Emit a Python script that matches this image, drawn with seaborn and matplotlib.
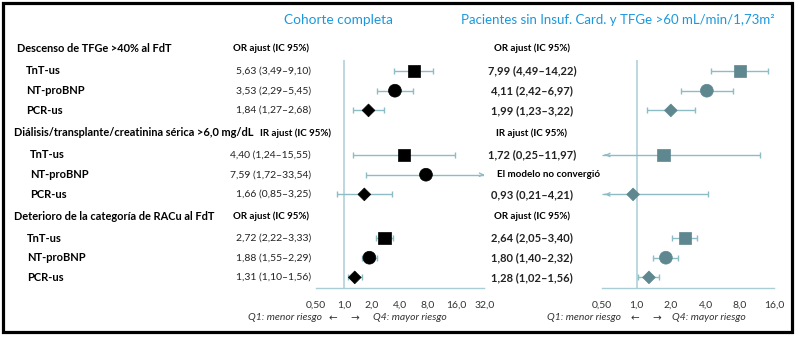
import numpy as np
import pandas as pd
import matplotlib
matplotlib.use("Agg")
import matplotlib.pyplot as plt
import seaborn as sns
from matplotlib.patches import Rectangle

# ---------------- data ----------------
groups = ["Descenso de TFGe >40% al FdT",
          "Diálisis/transplante/creatinina sérica >6,0 mg/dL",
          "Deterioro de la categoría de RACu al FdT"]
measures = ["OR ajust (IC 95%)", "IR ajust (IC 95%)", "OR ajust (IC 95%)"]
biomarkers = ["TnT-us", "NT-proBNP", "PCR-us"]

full_est = [5.63, 3.53, 1.84, 4.40, 7.59, 1.66, 2.72, 1.88, 1.31]
full_lo = [3.49, 2.29, 1.27, 1.24, 1.72, 0.85, 2.22, 1.55, 1.10]
full_hi = [9.10, 5.45, 2.68, 15.55, 33.54, 3.25, 3.33, 2.29, 1.56]

sub_est = [7.99, 4.11, 1.99, 1.72, np.nan, 0.93, 2.64, 1.80, 1.28]
sub_lo = [4.49, 2.42, 1.23, 0.25, np.nan, 0.21, 2.05, 1.40, 1.02]
sub_hi = [14.22, 6.97, 3.22, 11.97, np.nan, 4.21, 3.40, 2.32, 1.56]
not_converged = "El modelo no convergió"

titles = ["Cohorte completa", "Pacientes sin Insuf. Card. y TFGe >60 mL/min/1,73m²"]
left_ticks = [0.5, 1, 2, 4, 8, 16, 32]
left_ticklabels = ["0,50", "1,0", "2,0", "4,0", "8,0", "16,0", "32,0"]
right_ticks = [0.5, 1, 2, 4, 8, 16]
right_ticklabels = ["0,50", "1,0", "2,0", "4,0", "8,0", "16,0"]
q1_text = "Q1: menor riesgo"
q4_text = "Q4: mayor riesgo"

# ---------------- layout ----------------
W, H = 800, 338
sns.set_theme(style="white")
plt.rcParams["font.family"] = ["Lato", "DejaVu Sans"]

fig = plt.figure(figsize=(W / 100, H / 100), dpi=100)

TEAL = "#8dbcc4"
LINE = "#a9cdd4"
BLUE = "#1b98dc"
GRAY_MK = "#5e8790"

group_y0 = [71, 155, 238]
row_step = 19.7
header_y = [48, 133, 216]
label_x = [26, 30, 27]
header_x = [17, 14, 14]

def fy(y):
    return 1 - y / H

def ftext(x, y, s, **kw):
    fig.text(x / W, fy(y), s, va="center", **kw)

row_y = []
for g in range(3):
    for i in range(3):
        row_y.append(group_y0[g] + i * row_step)

def fmt(v):
    return f"{v:.2f}".replace(".", ",")

# text columns
for g in range(3):
    ftext(header_x[g], header_y[g], groups[g], fontsize=7.9, fontweight="bold", color="black")
    if g == 1:
        ftext(260, header_y[g], measures[g], fontsize=7, fontweight="bold", color="black")
    else:
        ftext(309, header_y[g], measures[g], fontsize=7, fontweight="bold", color="black", ha="right")
    ftext(532, header_y[g], measures[g], fontsize=7, fontweight="bold", color="black", ha="center")
    for i in range(3):
        k = g * 3 + i
        ftext(label_x[g], row_y[k], biomarkers[i], fontsize=8, fontweight="bold", color="black")
        ftext(311, row_y[k], f"{fmt(full_est[k])} ({fmt(full_lo[k])}–{fmt(full_hi[k])})",
              fontsize=7.5, color="#222222", ha="right")
        if np.isnan(sub_est[k]):
            ftext(497, row_y[k], not_converged, fontsize=7, fontweight="bold", color="black")
        else:
            ftext(532, row_y[k], f"{fmt(sub_est[k])} ({fmt(sub_lo[k])}–{fmt(sub_hi[k])})",
                  fontsize=8, fontweight="bold", color="#222222", ha="center")

ftext(338, 20, titles[0], fontsize=9.8, color=BLUE, ha="center")
ftext(618, 20, titles[1], fontsize=9.5, color=BLUE, ha="center")

# ---------------- forest panels ----------------
panels = [
    dict(x0=315.7, x1=484.3, est=full_est, lo=full_lo, hi=full_hi, ticks=left_ticks,
         labels=left_ticklabels, color="black", xmax=32),
    dict(x0=602.3, x1=774.3, est=sub_est, lo=sub_lo, hi=sub_hi, ticks=right_ticks,
         labels=right_ticklabels, color=GRAY_MK, xmax=16),
]
ytop, ybot = 60, 288

for p in panels:
    ax = fig.add_axes([p["x0"] / W, (H - ybot) / H, (p["x1"] - p["x0"]) / W, (ybot - ytop) / H])
    ax.set_xscale("log", base=2)
    ax.set_xlim(0.5, p["xmax"])
    ax.set_ylim(ybot, ytop)
    ax.axvline(1, color=LINE, lw=1.1, zorder=1)
    df = pd.DataFrame({"est": p["est"], "lo": p["lo"], "hi": p["hi"], "y": row_y,
                       "marker": biomarkers * 3})
    d = df.dropna()
    for _, r in d.iterrows():
        lo_v = max(r.lo, 0.5)
        hi_v = min(r.hi, p["xmax"])
        ax.hlines(r.y, lo_v, hi_v, color=TEAL, lw=1.0, zorder=2)
        if r.lo >= 0.5:
            ax.plot([r.lo], [r.y], marker="|", ms=5, mew=1.0, color=TEAL, zorder=2)
        else:
            ax.annotate("", xy=(0.5, r.y), xytext=(0.56, r.y),
                        arrowprops=dict(arrowstyle="->", color=TEAL, lw=1.0, mutation_scale=6),
                        annotation_clip=False)
        if r.hi <= p["xmax"]:
            ax.plot([r.hi], [r.y], marker="|", ms=5, mew=1.0, color=TEAL, zorder=2)
        else:
            ax.annotate("", xy=(p["xmax"], r.y), xytext=(p["xmax"] * 0.89, r.y),
                        arrowprops=dict(arrowstyle="->", color=TEAL, lw=1.0, mutation_scale=6),
                        annotation_clip=False)
    sns.scatterplot(data=d, x="est", y="y", style="marker", size="marker",
                    markers={"TnT-us": "s", "NT-proBNP": "o", "PCR-us": "D"},
                    sizes={"TnT-us": 80, "NT-proBNP": 85, "PCR-us": 42},
                    color=p["color"], edgecolor=p["color"], linewidth=0.5,
                    legend=False, ax=ax, zorder=3, clip_on=False)
    ax.set_xticks(p["ticks"])
    ax.set_xticklabels(p["labels"])
    ax.minorticks_off()
    ax.set_yticks([])
    ax.set_xlabel("")
    ax.set_ylabel("")
    for s in ["top", "left", "right"]:
        ax.spines[s].set_visible(False)
    ax.spines["bottom"].set_color(LINE)
    ax.spines["bottom"].set_linewidth(1.0)
    ax.tick_params(axis="x", direction="in", length=4, width=1, color=LINE,
                   pad=9, labelsize=7.5, labelcolor="#333333")
    ax.patch.set_alpha(0)

# Q1 / Q4 annotations
for (xq1, xl, xr, xq4) in [(322, 333, 355, 373), (621, 635, 657, 672)]:
    ftext(xq1, 318, q1_text, fontsize=7.5, style="italic", color="#333333", ha="right")
    ftext(xl, 318, "←", fontsize=7.5, color="#333333", ha="center", family=["DejaVu Sans"])
    ftext(xr, 318, "→", fontsize=7.5, color="#333333", ha="center", family=["DejaVu Sans"])
    ftext(xq4, 318, q4_text, fontsize=7.5, style="italic", color="#333333", ha="left")

# outer frame
fig.patches.append(Rectangle((3 / W, fy(332)), 789 / W, 329 / H, transform=fig.transFigure,
                             fill=False, edgecolor="black", lw=2.3, zorder=10))

fig.savefig("out.png", dpi=100)
